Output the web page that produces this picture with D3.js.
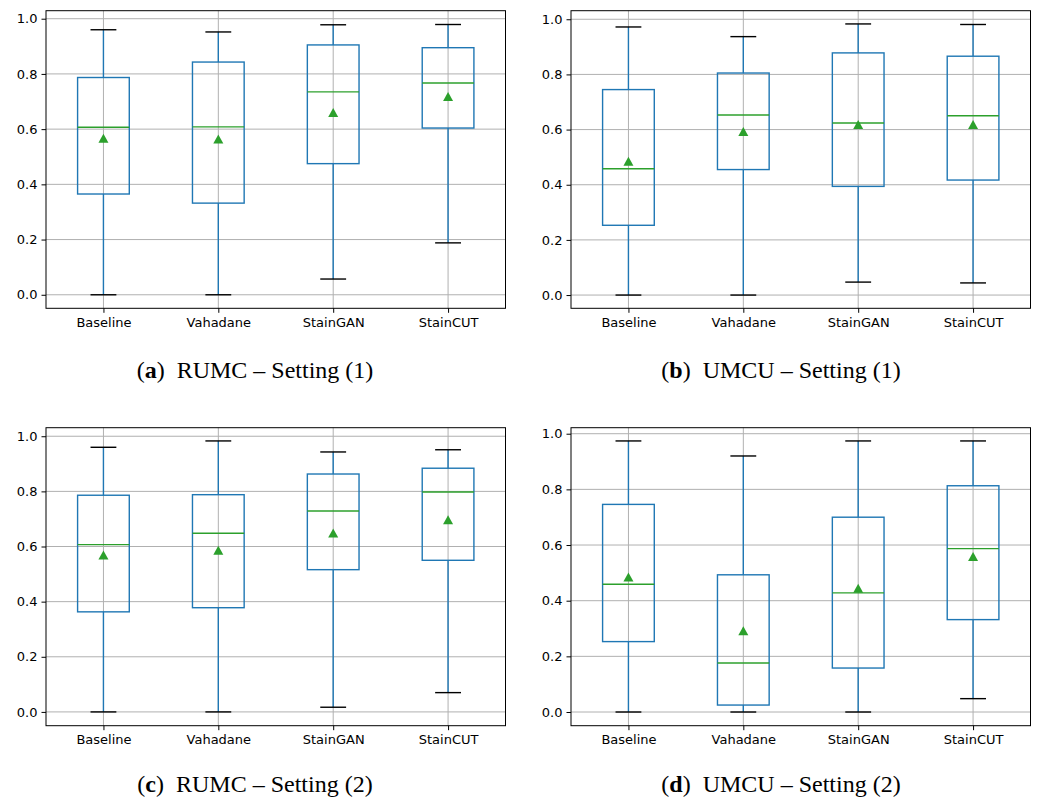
<!DOCTYPE html>
<html>
<head>
<meta charset="utf-8">
<script src="https://cdn.jsdelivr.net/npm/d3@7"></script>
<style>
  html, body { margin: 0; padding: 0; background: #fff; }
  svg { display: block; }
</style>
</head>
<body>
<svg id="chart" width="1037" height="803"></svg>
<script>
// ---------- data ----------
const categories = ["Baseline", "Vahadane", "StainGAN", "StainCUT"];
const yTicks = [0.0, 0.2, 0.4, 0.6, 0.8, 1.0];

// each: [whiskerLow, Q1, median, Q3, whiskerHigh], and means
const rumc1Stats = [
  [0.000, 0.365, 0.607, 0.787, 0.960],
  [0.000, 0.332, 0.608, 0.843, 0.952],
  [0.057, 0.475, 0.735, 0.905, 0.978],
  [0.188, 0.604, 0.767, 0.895, 0.979]
];
const rumc1Means = [0.566, 0.563, 0.659, 0.717];

const umcu1Stats = [
  [0.000, 0.253, 0.458, 0.745, 0.972],
  [0.000, 0.455, 0.653, 0.805, 0.937],
  [0.047, 0.394, 0.624, 0.878, 0.983],
  [0.044, 0.417, 0.650, 0.866, 0.981]
];
const umcu1Means = [0.484, 0.592, 0.617, 0.617];

const rumc2Stats = [
  [0.000, 0.363, 0.607, 0.786, 0.960],
  [0.000, 0.378, 0.648, 0.788, 0.983],
  [0.017, 0.516, 0.729, 0.863, 0.943],
  [0.070, 0.550, 0.798, 0.884, 0.951]
];
const rumc2Means = [0.568, 0.585, 0.648, 0.696];

const umcu2Stats = [
  [0.000, 0.253, 0.459, 0.746, 0.974],
  [0.000, 0.025, 0.176, 0.493, 0.920],
  [0.000, 0.158, 0.428, 0.700, 0.974],
  [0.048, 0.332, 0.587, 0.813, 0.974]
];
const umcu2Means = [0.484, 0.291, 0.444, 0.558];

const captionLetters = ["a", "b", "c", "d"];
const captionTexts = ["RUMC – Setting (1)", "UMCU – Setting (1)", "RUMC – Setting (2)", "UMCU – Setting (2)"];
const yLimits = [[-0.049, 1.029], [-0.048, 1.031], [-0.050, 1.031], [-0.0492, 1.0216]];

// ---------- layout ----------
const panels = [
  { stats: rumc1Stats, means: rumc1Means, left: 46,  right: 505.5, top: 10.7,  bottom: 308.3, capX: 255, capY: 378 },
  { stats: umcu1Stats, means: umcu1Means, left: 571, right: 1030.5, top: 10.7, bottom: 308.3, capX: 781, capY: 378 },
  { stats: rumc2Stats, means: rumc2Means, left: 46,  right: 505.5, top: 427.7, bottom: 725.7, capX: 255, capY: 792 },
  { stats: umcu2Stats, means: umcu2Means, left: 571, right: 1030.5, top: 427.7, bottom: 725.7, capX: 781, capY: 792 }
];

const svg = d3.select("#chart");
const BLUE = "#1f77b4", GREEN = "#2ca02c", GRID = "#b0b0b0";
const tickFont = "DejaVu Sans, sans-serif";

panels.forEach((p, pi) => {
  const g = svg.append("g");
  const x = d3.scaleLinear().domain([0.5, 4.5]).range([p.left, p.right]);
  const y = d3.scaleLinear().domain(yLimits[pi]).range([p.bottom, p.top]);
  const band = x(1.45) - x(1); // half box width (widths = 0.45 category units... half = 0.225)
  const halfBox = (x(1.225) - x(1));
  const halfCap = halfBox / 2;

  // grid
  const gridG = g.append("g");
  yTicks.forEach(t => {
    gridG.append("line").attr("x1", p.left).attr("x2", p.right)
      .attr("y1", y(t)).attr("y2", y(t))
      .attr("stroke", GRID).attr("stroke-width", 1);
  });
  categories.forEach((c, i) => {
    gridG.append("line").attr("x1", x(i + 1)).attr("x2", x(i + 1))
      .attr("y1", p.top).attr("y2", p.bottom)
      .attr("stroke", GRID).attr("stroke-width", 1);
  });

  // boxes
  p.stats.forEach((s, i) => {
    const cx = x(i + 1);
    const [lo, q1, med, q3, hi] = s;
    // whiskers
    g.append("line").attr("x1", cx).attr("x2", cx).attr("y1", y(q1)).attr("y2", y(lo))
      .attr("stroke", BLUE).attr("stroke-width", 1.4);
    g.append("line").attr("x1", cx).attr("x2", cx).attr("y1", y(q3)).attr("y2", y(hi))
      .attr("stroke", BLUE).attr("stroke-width", 1.4);
    // caps
    [lo, hi].forEach(v => {
      g.append("line").attr("x1", cx - halfCap).attr("x2", cx + halfCap)
        .attr("y1", y(v)).attr("y2", y(v))
        .attr("stroke", "#000").attr("stroke-width", 1.4);
    });
    // box
    g.append("rect").attr("x", cx - halfBox).attr("width", 2 * halfBox)
      .attr("y", y(q3)).attr("height", y(q1) - y(q3))
      .attr("fill", "none").attr("stroke", BLUE).attr("stroke-width", 1.4);
    // median
    g.append("line").attr("x1", cx - halfBox).attr("x2", cx + halfBox)
      .attr("y1", y(med)).attr("y2", y(med))
      .attr("stroke", GREEN).attr("stroke-width", 1.4);
    // mean triangle
    const my = y(p.means[i]);
    g.append("path")
      .attr("d", `M${cx},${my - 4.8} L${cx + 5},${my + 4.2} L${cx - 5},${my + 4.2} Z`)
      .attr("fill", GREEN);
  });

  // frame
  g.append("rect").attr("x", p.left).attr("y", p.top)
    .attr("width", p.right - p.left).attr("height", p.bottom - p.top)
    .attr("fill", "none").attr("stroke", "#000").attr("stroke-width", 1);

  // y axis
  const yAxis = d3.axisLeft(y).tickValues(yTicks).tickFormat(d3.format(".1f"))
    .tickSize(4.5).tickPadding(4);
  const ya = g.append("g").attr("transform", `translate(${p.left},0)`).call(yAxis);
  ya.select(".domain").remove();
  ya.selectAll("text").attr("font-family", tickFont).attr("font-size", 13).attr("fill", "#000");
  ya.selectAll("line").attr("stroke", "#000");

  // x axis
  const xAxis = d3.axisBottom(x).tickValues([1, 2, 3, 4])
    .tickFormat(d => categories[d - 1]).tickSize(4.5).tickPadding(5);
  const xa = g.append("g").attr("transform", `translate(0,${p.bottom})`).call(xAxis);
  xa.select(".domain").remove();
  xa.selectAll("text").attr("font-family", tickFont).attr("font-size", 13).attr("fill", "#000");
  xa.selectAll("line").attr("stroke", "#000");

  // caption
  const cap = svg.append("text").attr("x", p.capX).attr("y", p.capY)
    .attr("text-anchor", "middle")
    .attr("font-family", "Liberation Serif, serif").attr("font-size", 24).attr("fill", "#000");
  cap.append("tspan").text("(");
  cap.append("tspan").attr("font-weight", "bold").text(captionLetters[pi]);
  cap.append("tspan").text(")\u2002" + captionTexts[pi]);
});
</script>
</body>
</html>
